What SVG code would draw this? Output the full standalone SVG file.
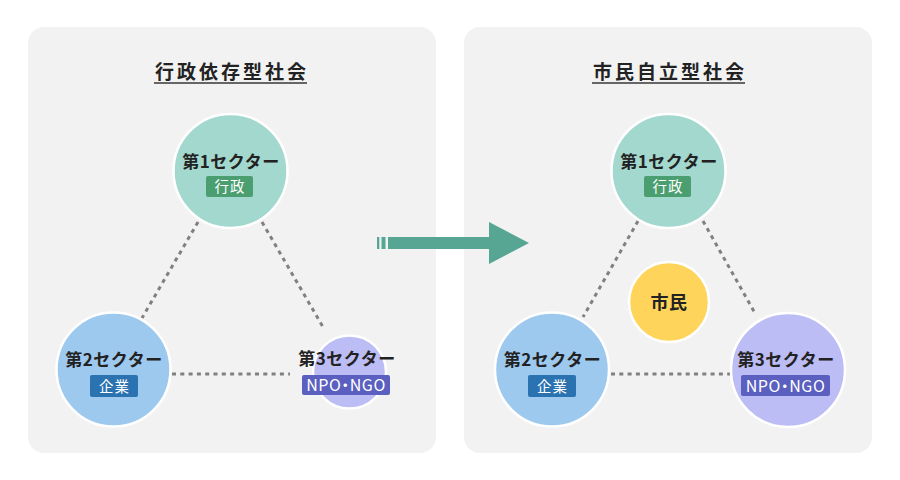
<svg xmlns="http://www.w3.org/2000/svg" width="900" height="480" viewBox="0 0 900 480">
<style>
.panel{fill:#f2f2f2}
.title{font-family:"Noto Sans CJK JP","Noto Sans",sans-serif;font-size:19px;font-weight:bold;fill:#222;text-anchor:middle;letter-spacing:3px}
.uline{stroke:#666;stroke-width:2}
.node{stroke:#fff;stroke-width:2.5}
.name{font-family:"Noto Sans CJK JP","Noto Sans",sans-serif;font-size:17px;font-weight:bold;fill:#222;text-anchor:middle;letter-spacing:0.5px}
.tag{font-family:"Noto Sans CJK JP","Noto Sans",sans-serif;font-size:14.5px;fill:#fff;text-anchor:middle;letter-spacing:1px}
.ngo{font-size:16px;letter-spacing:0.5px;font-feature-settings:"palt"}
.dot{stroke:#808080;stroke-width:3;stroke-dasharray:4 4.3;fill:none}
</style>
<rect width="900" height="480" fill="#fff"/>
<rect class="panel" x="28" y="27" width="408" height="426" rx="16"/>
<rect class="panel" x="464" y="27" width="408" height="426" rx="16"/>
<g id="title-left">
<text class="title" x="232" y="79">行政依存型社会</text>
<line class="uline" x1="154" y1="83" x2="307" y2="83"/>
</g>
<g id="title-right">
<text class="title" x="670" y="79">市民自立型社会</text>
<line class="uline" x1="592" y1="83" x2="745" y2="83"/>
</g>
<g id="connectors">
<line class="dot" x1="198" y1="222" x2="142" y2="318"/>
<line class="dot" x1="262" y1="222" x2="323" y2="327"/>
<line class="dot" x1="172" y1="374" x2="290" y2="374"/>
<line class="dot" x1="638" y1="221" x2="583" y2="317"/>
<line class="dot" x1="703" y1="221" x2="756" y2="315"/>
<line class="dot" x1="611" y1="374" x2="730" y2="374"/>
</g>
<g id="arrow" fill="#56a693">
<rect x="377" y="237" width="2.3" height="12"/>
<rect x="381.5" y="237" width="4" height="12"/>
<rect x="388" y="237" width="102" height="12"/>
<polygon points="489,222 529,243 489,264"/>
</g>
<g id="L-sector1">
<circle class="node" cx="230.5" cy="171" r="57" fill="#a3d8cf"/>
<text class="name" x="231" y="168">第1セクター</text>
<rect x="206" y="176" width="47" height="21" rx="2" fill="#4a9e6f"/>
<text class="tag" x="230" y="192">行政</text>
</g>
<g id="L-sector2">
<circle class="node" cx="113.5" cy="369.5" r="57" fill="#9ec9ef"/>
<text class="name" x="114" y="366">第2セクター</text>
<rect x="90" y="375" width="48" height="22" rx="2" fill="#2a72b0"/>
<text class="tag" x="114.5" y="391.5">企業</text>
</g>
<g id="L-sector3">
<circle class="node" cx="349.5" cy="372" r="36.5" fill="#bdbdf5"/>
<text class="name" x="347" y="365">第3セクター</text>
<rect x="302" y="375" width="88" height="20" rx="2" fill="#5a5fc0"/>
<text class="tag ngo" x="346" y="391">NPO・NGO</text>
</g>
<g id="R-sector1">
<circle class="node" cx="668.5" cy="171" r="57" fill="#a3d8cf"/>
<text class="name" x="669" y="168">第1セクター</text>
<rect x="644" y="176" width="47" height="21" rx="2" fill="#4a9e6f"/>
<text class="tag" x="668" y="192">行政</text>
</g>
<g id="R-citizen">
<circle class="node" cx="669" cy="302" r="40" fill="#ffd45a"/>
<text class="name" x="669" y="309" style="font-size:18px">市民</text>
</g>
<g id="R-sector2">
<circle class="node" cx="552" cy="369.5" r="57" fill="#9ec9ef"/>
<text class="name" x="552.5" y="366">第2セクター</text>
<rect x="528" y="375" width="48" height="22" rx="2" fill="#2a72b0"/>
<text class="tag" x="552.5" y="391.5">企業</text>
</g>
<g id="R-sector3">
<circle class="node" cx="788" cy="370" r="57" fill="#bdbdf5"/>
<text class="name" x="786" y="366">第3セクター</text>
<rect x="741" y="375" width="89" height="21" rx="2" fill="#5a5fc0"/>
<text class="tag ngo" x="785.5" y="391.5">NPO・NGO</text>
</g>
</svg>
